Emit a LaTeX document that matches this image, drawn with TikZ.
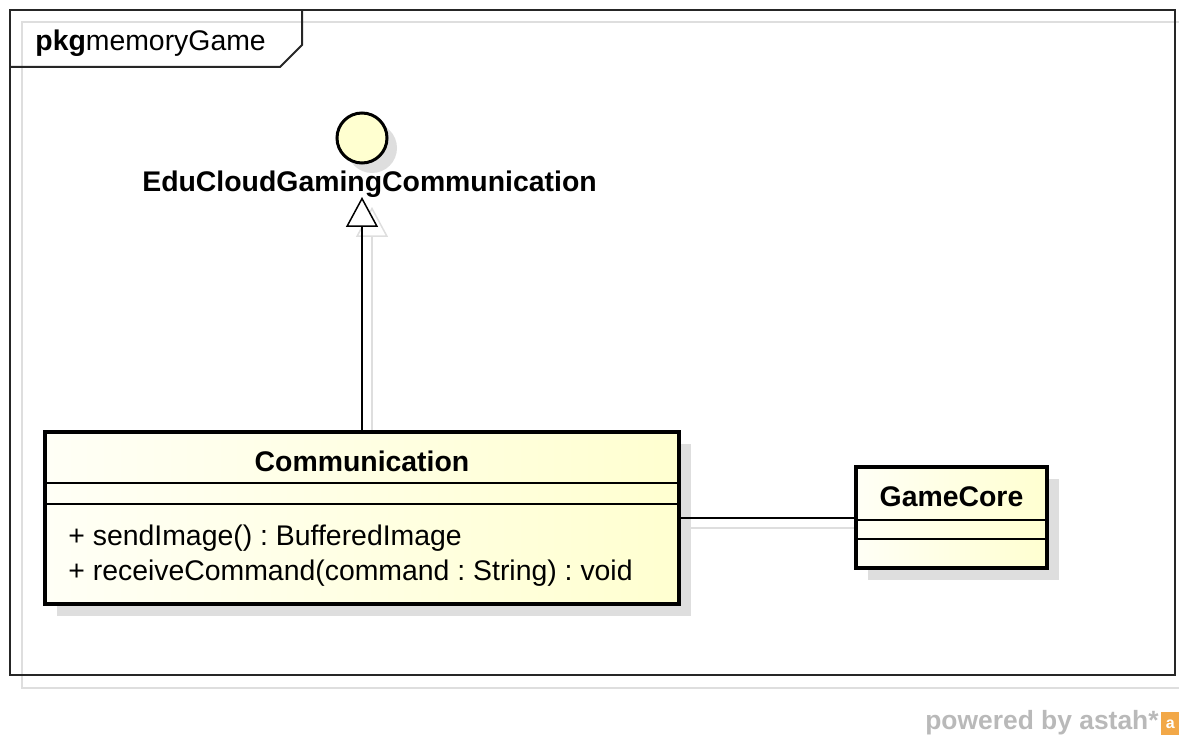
\documentclass[tikz,border=0pt]{standalone}
\usepackage{fontspec}
\setmainfont{Liberation Sans}
\usetikzlibrary{arrows.meta,shadows}
\definecolor{umlyellow}{RGB}{255,255,208}
\definecolor{umllight}{RGB}{255,255,246}
\definecolor{ghost}{RGB}{222,222,222}
\definecolor{astahgray}{RGB}{185,185,185}
\definecolor{astahorange}{RGB}{242,168,72}
\tikzset{
  umlclass/.style={draw, line width=2pt, left color=umllight, right color=umlyellow, inner sep=0pt,
    drop shadow={shadow xshift=6pt, shadow yshift=-6pt, fill=ghost, opacity=1}},
  umltext/.style={font=\fontsize{14.2}{17}\selectfont, inner sep=0pt},
  umlname/.style={font=\fontsize{14.2}{17}\selectfont\bfseries, inner sep=0pt},
  ghostline/.style={draw=ghost, line width=0.75pt},
  thinline/.style={line width=0.75pt},
}
\frenchspacing
\begin{document}
\begin{tikzpicture}[x=0.5pt, y=-0.5pt]
\useasboundingbox (0,0) rectangle (1179,737);
% ghost of the package frame
\draw[ghostline] (1179,688) -- (22,688) -- (22,22) -- (1179,22);
% package frame
\draw[line width=1pt, black!85] (10,10) rectangle (1175,675);
\draw[line width=1pt, black!85] (302,10) -- (302,45) -- (280,67) -- (10,67);
\node[umltext, anchor=base west] (pkg) at (35,51) {\textbf{pkg}memoryGame};
% ghosts of the connectors
\draw[ghostline, -{Triangle[open, length=15pt, width=16pt]}] (372,442) -- (372,207);
\draw[ghostline] (690,528) -- (868,528);
% interface
\node[circle, draw, line width=1.5pt, fill=umlyellow, minimum size=25pt, inner sep=0pt,
  drop shadow={shadow xshift=5pt, shadow yshift=-5pt, fill=ghost, opacity=1}] (iface) at (362,138) {};
\node[umlname, anchor=base] (ifacename) at (369.5,192) {EduCloudGamingCommunication};
\coordinate (gentip) at (362,197);
% classes
\node[umlclass, minimum width=317pt, minimum height=86pt] (comm) at (362,518) {};
\node[umlclass, minimum width=95.5pt, minimum height=50.5pt] (core) at (951.5,517.5) {};
\node[umlname, anchor=base] (commname) at ([yshift=-21pt]comm.north) {Communication};
\node[umlname, anchor=base] (corename) at ([yshift=-21pt]core.north) {GameCore};
\foreach \y in {26.5,37} % edit here for the compartments
  \draw[thinline] ([yshift=-\y pt]comm.north west) -- ([yshift=-\y pt]comm.north east);
\foreach \y in {27.5,37}
  \draw[thinline] ([yshift=-\y pt]core.north west) -- ([yshift=-\y pt]core.north east);
\foreach \op [count=\i] in {{+ sendImage() : BufferedImage}, {+ receiveCommand(command : String) : void}}
  \node[umltext, anchor=base west] (op\i) at ([xshift=12.5pt, yshift={-58pt-(\i-1)*17.5pt}]comm.north west) {\op};
% connectors
\draw[thinline, -{Triangle[length=15pt, width=16pt, fill=white]}] (comm.north) -- (gentip);
\draw[thinline] (comm.east) -- (comm.east -| core.west);
% watermark
\node[anchor=base east, text=astahgray, font=\fontsize{13.2}{15}\selectfont\bfseries, inner sep=0pt] (powered) at (1159,729) {powered by astah*};
\node[anchor=north west, fill=astahorange, text=white, font=\fontsize{8}{8}\selectfont\bfseries,
  minimum width=9pt, minimum height=11.5pt, inner sep=0pt] (logo) at (1161,712) {a};
\end{tikzpicture}
\end{document}
